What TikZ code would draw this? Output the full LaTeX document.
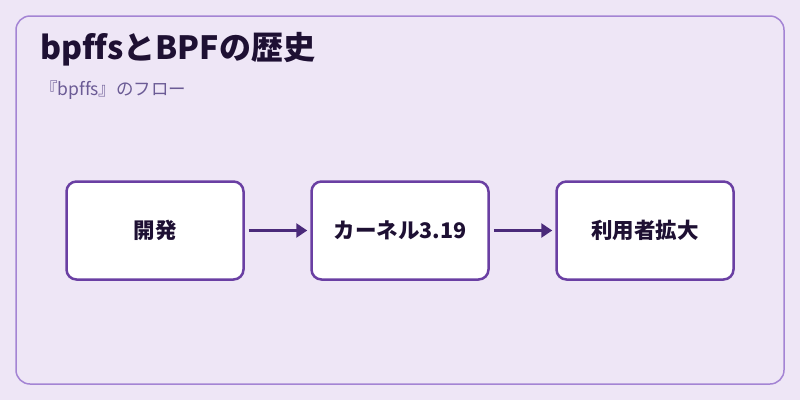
\documentclass[tikz,border=0pt]{standalone}
\usepackage{fontspec}
\setmainfont{Noto Sans CJK JP}[Ligatures=NoCommon]
\usetikzlibrary{arrows.meta}
\definecolor{bgc}{HTML}{EEE6F6}
\definecolor{framec}{HTML}{A484D4}
\definecolor{boxc}{HTML}{6A3FA3}
\definecolor{arrc}{HTML}{4A2A7A}
\definecolor{titlec}{HTML}{1E1033}
\definecolor{subc}{HTML}{6B5B95}
\tikzset{
  stepbox/.style={draw=boxc, line width=2.5pt, fill=white, rounded corners=10pt,
    minimum width=177pt, minimum height=98pt, inner sep=0pt,
    font=\fontsize{21.5pt}{26pt}\selectfont\bfseries, text=titlec},
  flow/.style={draw=arrc, line width=3pt, -{Triangle[length=11pt,width=14pt]}}
}
\begin{document}
\begin{tikzpicture}[x=1pt,y=-1pt]
\path[fill=bgc] (0,0) rectangle (800,400);
\useasboundingbox (0,0) rectangle (800,400);
\draw[framec, line width=1.5pt, rounded corners=14pt, fill=bgc] (16,16) rectangle (784,384);
\node[anchor=base west, inner sep=0pt, text=titlec, font=\fontsize{32pt}{38pt}\selectfont\bfseries] (title) at (40,59) {bpffsとBPFの歴史};
\node[anchor=base west, inner sep=0pt, text=subc, font=\fontsize{17.5pt}{21pt}\selectfont] (sub) at (40,95) {『bpffs』のフロー};
\node[stepbox] (a) at (155,230.5) {開発};
\node[stepbox] (b) at (400,230.5) {カーネル3.19};
\node[stepbox] (c) at (645,230.5) {利用者拡大};
\draw[flow] ([xshift=4pt]a.east) -- ([xshift=-3pt]b.west);
\draw[flow] ([xshift=4pt]b.east) -- ([xshift=-3pt]c.west);
\end{tikzpicture}
\end{document}
